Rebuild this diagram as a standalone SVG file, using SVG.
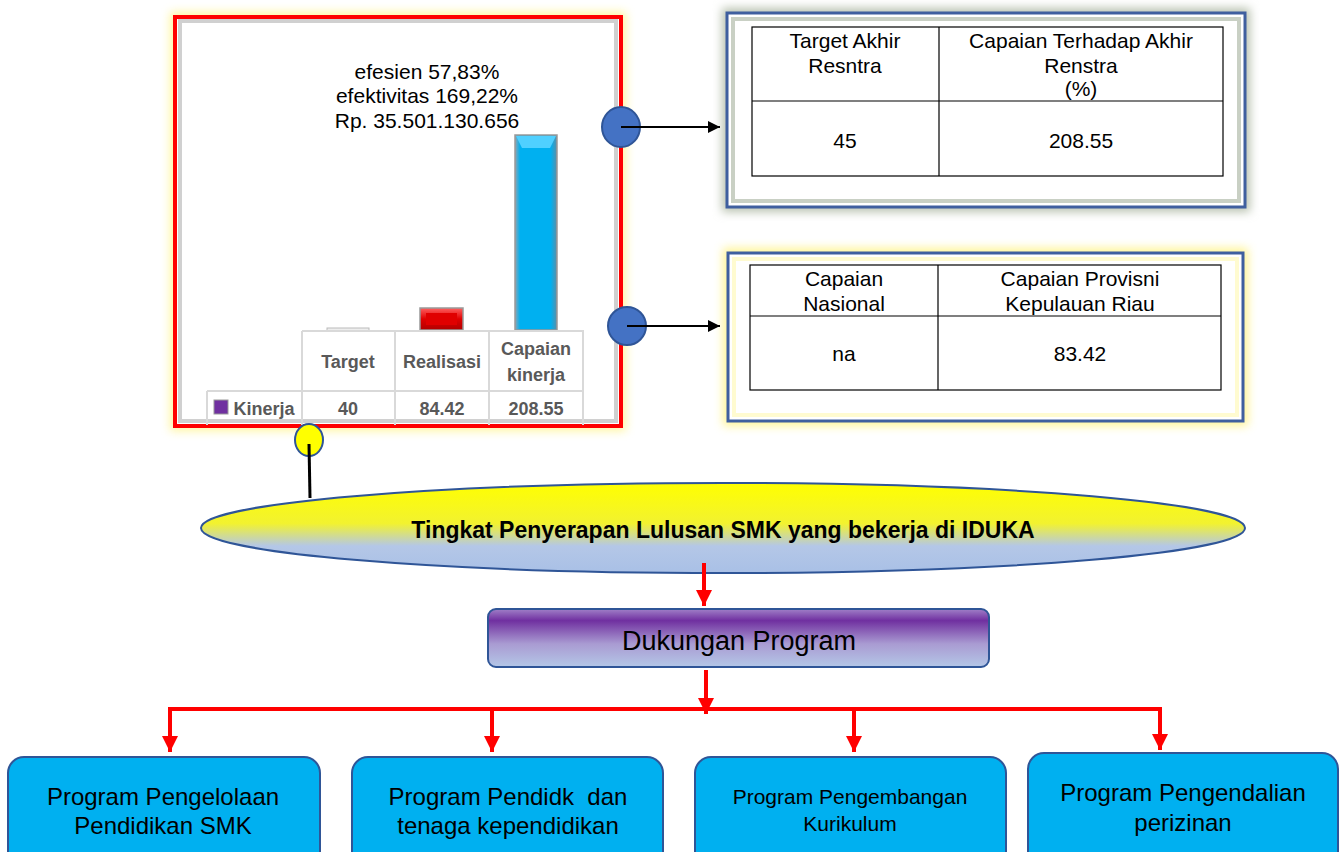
<svg xmlns="http://www.w3.org/2000/svg" width="1344" height="852" viewBox="0 0 1344 852">
<defs>
<filter id="glowY" x="-10%" y="-10%" width="120%" height="120%"><feGaussianBlur stdDeviation="5"/></filter>
<linearGradient id="ellG" x1="0" y1="0" x2="0" y2="1">
<stop offset="0" stop-color="#FFFF00"/><stop offset="0.45" stop-color="#F2F230"/><stop offset="0.7" stop-color="#B4C7E7"/><stop offset="1" stop-color="#A9C0E6"/></linearGradient>
<linearGradient id="dukG" x1="0" y1="0" x2="0" y2="1">
<stop offset="0" stop-color="#A080C8"/><stop offset="0.2" stop-color="#7030A0"/><stop offset="0.6" stop-color="#A99BD2"/><stop offset="1" stop-color="#B4C7E7"/></linearGradient>
<linearGradient id="blueBar" x1="0" y1="0" x2="1" y2="0">
<stop offset="0" stop-color="#8FA6B4"/><stop offset="0.12" stop-color="#00B0F0"/><stop offset="0.85" stop-color="#00B0F0"/><stop offset="1" stop-color="#5A8FA8"/></linearGradient>
<linearGradient id="redBar" x1="0" y1="0" x2="0" y2="1">
<stop offset="0" stop-color="#FF6060"/><stop offset="0.5" stop-color="#E00000"/><stop offset="1" stop-color="#B00000"/></linearGradient>
<marker id="ah" viewBox="0 0 10 10" refX="10" refY="5" markerWidth="6" markerHeight="6" orient="auto" markerUnits="strokeWidth"><path d="M0,0 L10,5 L0,10 z" fill="#000"/></marker>
<marker id="ahR" viewBox="0 0 10 10" refX="10" refY="5" markerWidth="4" markerHeight="4" orient="auto" markerUnits="strokeWidth"><path d="M0,0 L10,5 L0,10 z" fill="#FF0000"/></marker>
</defs>
<style>
.t{font-family:"Liberation Sans",Arial,sans-serif;fill:#000;text-anchor:middle}
.c{font-family:"Liberation Sans",Arial,sans-serif;font-weight:bold;fill:#595959;text-anchor:middle;font-size:18px}
.tbl{fill:#fff;stroke:#000;stroke-width:1.2}
.prog{fill:#00B0F0;stroke:#2F5597;stroke-width:2}
.red{stroke:#FF0000;stroke-width:4;fill:none}
.blk{stroke:#000;stroke-width:2;fill:none}
</style>
<rect width="1344" height="852" fill="#fff"/>

<g id="chart">
<rect x="170" y="12" width="456" height="419" fill="#FFF27A" filter="url(#glowY)" opacity="0.7"/>
<rect x="175" y="17" width="446" height="409" fill="#fff" stroke="#FF0000" stroke-width="4"/>
<rect x="180" y="21" width="436" height="400" fill="none" stroke="#D0D0D0" stroke-width="4"/>
<rect x="182" y="23" width="432" height="396" fill="#fff"/>
<text class="t" font-size="21" x="427" y="79">efesien 57,83%</text>
<text class="t" font-size="21" x="427" y="103">efektivitas  169,22%</text>
<text class="t" font-size="21" x="427" y="128">Rp. 35.501.130.656</text>
<rect x="327" y="328" width="42" height="3" fill="#eee" stroke="#bbb" stroke-width="1"/>
<rect x="420" y="308" width="43" height="22" fill="url(#redBar)" stroke="#999" stroke-width="1.5"/>
<rect x="426" y="313" width="31" height="12" fill="#E00000"/>
<rect x="515" y="135" width="42" height="195" fill="url(#blueBar)" stroke="#999" stroke-width="1.5"/>
<path d="M516,136 L556,136 L550,148 L522,148 z" fill="#50D0FF"/>
<g stroke="#D9D9D9" stroke-width="2" fill="none">
<path d="M302,331 H583 V425 M302,331 V425 M395,331 V425 M489,331 V425 M207,391 H583 M207,391 V425"/>
</g>
<text class="c" x="348" y="368">Target</text>
<text class="c" x="442" y="368">Realisasi</text>
<text class="c" x="536" y="355">Capaian</text>
<text class="c" x="536" y="381">kinerja</text>
<rect x="214" y="400" width="14" height="14" fill="#7030A0" stroke="#999" stroke-width="1"/>
<text class="c" x="264" y="415">Kinerja</text>
<text class="c" x="348" y="415">40</text>
<text class="c" x="442" y="415">84.42</text>
<text class="c" x="536" y="415">208.55</text>
</g>

<g id="box1">
<rect x="722" y="8" width="528" height="204" fill="#B9C2B0" filter="url(#glowY)"/>
<rect x="727" y="13" width="518" height="194" fill="#fff" stroke="#3F5F9F" stroke-width="3"/>
<rect x="733" y="19" width="506" height="182" fill="none" stroke="#C9D0C4" stroke-width="4"/>
<rect class="tbl" x="752" y="27" width="471" height="149"/>
<path d="M939,27 V176 M752,101 H1223" stroke="#000" stroke-width="1.2"/>
<text class="t" font-size="21" x="845" y="48">Target Akhir</text>
<text class="t" font-size="21" x="845" y="73">Resntra</text>
<text class="t" font-size="21" x="1081" y="48">Capaian Terhadap Akhir</text>
<text class="t" font-size="21" x="1081" y="73">Renstra</text>
<text class="t" font-size="21" x="1081" y="96">(%)</text>
<text class="t" font-size="21" x="845" y="148">45</text>
<text class="t" font-size="21" x="1081" y="148">208.55</text>
</g>

<g id="box2">
<rect x="723" y="248" width="525" height="178" fill="#FFF27A" filter="url(#glowY)" opacity="0.8"/>
<rect x="728" y="253" width="515" height="168" fill="#fff" stroke="#3F5F9F" stroke-width="3"/>
<rect x="734" y="259" width="503" height="156" fill="none" stroke="#FFFBD0" stroke-width="4"/>
<rect class="tbl" x="750" y="265" width="471" height="125"/>
<path d="M938,265 V390 M750,316 H1221" stroke="#000" stroke-width="1.2"/>
<text class="t" font-size="21" x="844" y="286">Capaian</text>
<text class="t" font-size="21" x="844" y="311">Nasional</text>
<text class="t" font-size="21" x="1080" y="286">Capaian Provisni</text>
<text class="t" font-size="21" x="1080" y="311">Kepulauan Riau</text>
<text class="t" font-size="21" x="844" y="361">na</text>
<text class="t" font-size="21" x="1080" y="361">83.42</text>
</g>

<g id="dot1"><ellipse cx="621" cy="127" rx="19" ry="20" fill="#4472C4" stroke="#2F5597" stroke-width="2"/></g>
<g id="dot2"><ellipse cx="627" cy="326" rx="19" ry="19" fill="#4472C4" stroke="#2F5597" stroke-width="2"/></g>
<g id="dot3"><ellipse cx="309" cy="440" rx="14" ry="16" fill="#FFFF00" stroke="#2F5597" stroke-width="2"/></g>

<g id="goal">
<ellipse cx="723" cy="528" rx="522" ry="45" fill="url(#ellG)" stroke="#2F5597" stroke-width="2"/>
<text x="723" y="538" font-family="Liberation Sans,Arial,sans-serif" font-weight="bold" font-size="23" text-anchor="middle" fill="#000">Tingkat Penyerapan Lulusan SMK yang bekerja di IDUKA</text>
</g>

<g id="dukungan">
<rect x="488" y="609" width="501" height="58" rx="8" fill="url(#dukG)" stroke="#2F5597" stroke-width="2"/>
<text class="t" font-size="27" x="739" y="650">Dukungan Program</text>
</g>

<g id="prog1"><rect class="prog" x="8" y="757" width="312" height="110" rx="16"/>
<text class="t" font-size="24" x="163" y="805">Program Pengelolaan</text>
<text class="t" font-size="24" x="163" y="834">Pendidikan SMK</text></g>
<g id="prog2"><rect class="prog" x="352" y="757" width="311" height="110" rx="16"/>
<text class="t" font-size="24" x="508" y="805" xml:space="preserve">Program Pendidk  dan</text>
<text class="t" font-size="24" x="508" y="834">tenaga kependidikan</text></g>
<g id="prog3"><rect class="prog" x="695" y="757" width="311" height="110" rx="16"/>
<text class="t" font-size="21" x="850" y="804">Program Pengembangan</text>
<text class="t" font-size="21" x="850" y="831">Kurikulum</text></g>
<g id="prog4"><rect class="prog" x="1028" y="753" width="310" height="114" rx="16"/>
<text class="t" font-size="24" x="1183" y="801">Program Pengendalian</text>
<text class="t" font-size="24" x="1183" y="831">perizinan</text></g>

<g id="connectors">
<line class="blk" x1="621" y1="127" x2="720" y2="127" marker-end="url(#ah)"/>
<line class="blk" x1="627" y1="326" x2="720" y2="326" marker-end="url(#ah)"/>
<line x1="309" y1="444" x2="310" y2="498" stroke="#000" stroke-width="3"/>
<line class="red" x1="704" y1="563" x2="704" y2="606" marker-end="url(#ahR)"/>
<line class="red" x1="706" y1="670" x2="706" y2="714" marker-end="url(#ahR)"/>
<path class="red" d="M170,740 V709 H1160 V740"/>
<line class="red" x1="170" y1="709" x2="170" y2="752" marker-end="url(#ahR)"/>
<line class="red" x1="492" y1="709" x2="492" y2="752" marker-end="url(#ahR)"/>
<line class="red" x1="854" y1="709" x2="854" y2="752" marker-end="url(#ahR)"/>
<line class="red" x1="1160" y1="709" x2="1160" y2="750" marker-end="url(#ahR)"/>
</g>
</svg>
